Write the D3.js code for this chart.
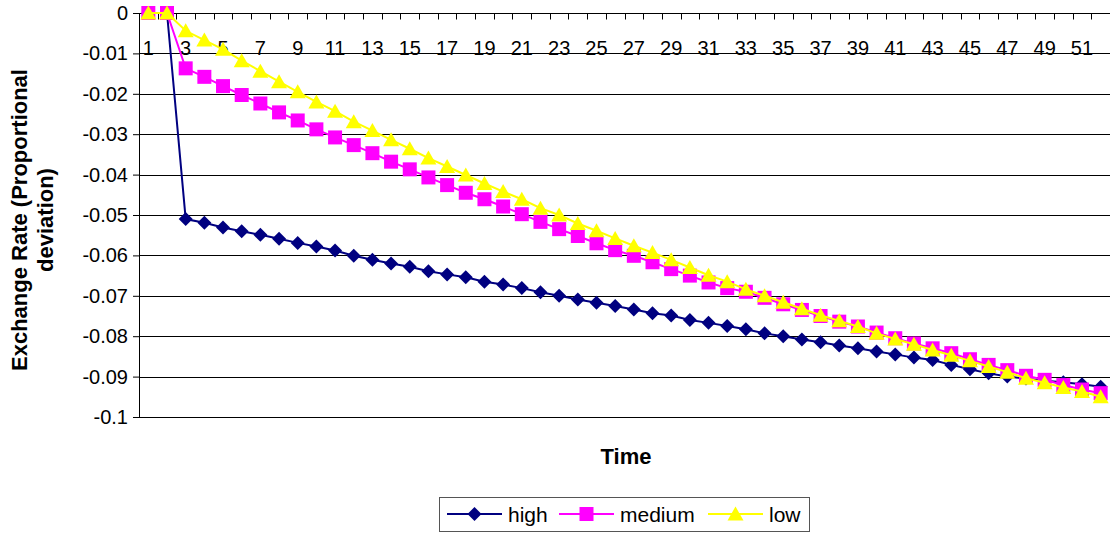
<!DOCTYPE html>
<html>
<head>
<meta charset="utf-8">
<script src="https://cdn.jsdelivr.net/npm/d3@7"></script>
<style>
  body { margin: 0; background: #fff; }
  svg { display: block; font-family: 'Liberation Sans', Arial, sans-serif; }
</style>
</head>
<body>
<div id="chart"></div>
<script>
// time periods 1..52
const periods = d3.range(1, 53);

const high = [0, 0, -0.0510, -0.0519, -0.0531, -0.0540, -0.0549, -0.0559, -0.0569, -0.0578,
  -0.0588, -0.0601, -0.0611, -0.0620, -0.0628, -0.0639, -0.0647, -0.0654, -0.0665, -0.0672,
  -0.0681, -0.0691, -0.0700, -0.0709, -0.0717, -0.0725, -0.0734, -0.0743, -0.0749, -0.0760,
  -0.0767, -0.0775, -0.0783, -0.0793, -0.0800, -0.0808, -0.0815, -0.0823, -0.0830, -0.0838,
  -0.0845, -0.0853, -0.0859, -0.0871, -0.0882, -0.0892, -0.0900, -0.0905, -0.0910, -0.0914,
  -0.0919, -0.0925];

const medium = [0, 0, -0.0137, -0.0158, -0.0181, -0.0203, -0.0224, -0.0246, -0.0266, -0.0288,
  -0.0308, -0.0327, -0.0347, -0.0368, -0.0387, -0.0407, -0.0426, -0.0445, -0.0461, -0.0479,
  -0.0498, -0.0517, -0.0535, -0.0552, -0.0570, -0.0587, -0.0601, -0.0617, -0.0634, -0.0650,
  -0.0667, -0.0681, -0.0690, -0.0705, -0.0721, -0.0735, -0.0750, -0.0764, -0.0776, -0.0791,
  -0.0805, -0.0818, -0.0830, -0.0842, -0.0857, -0.0871, -0.0884, -0.0898, -0.0908, -0.0921,
  -0.0932, -0.0941];

const low = [0, 0, -0.0044, -0.0067, -0.0090, -0.0118, -0.0144, -0.0170, -0.0195, -0.0220,
  -0.0243, -0.0269, -0.0291, -0.0314, -0.0336, -0.0359, -0.0380, -0.0401, -0.0422, -0.0442,
  -0.0461, -0.0483, -0.0500, -0.0521, -0.0539, -0.0558, -0.0576, -0.0593, -0.0611, -0.0630,
  -0.0649, -0.0665, -0.0684, -0.0700, -0.0716, -0.0732, -0.0748, -0.0762, -0.0776, -0.0793,
  -0.0807, -0.0820, -0.0834, -0.0847, -0.0861, -0.0875, -0.0889, -0.0904, -0.0915, -0.0927,
  -0.0937, -0.0950];

const yTicks = [0, -0.01, -0.02, -0.03, -0.04, -0.05, -0.06, -0.07, -0.08, -0.09, -0.1];

const seriesNames = ['high', 'medium', 'low'];
const seriesColors = ['#000080', '#ff00ff', '#ffff00'];

const width = 1110;
const height = 533;
const plotLeft = 139, plotRight = 1110, plotTop = 13, plotBottom = 417;

// Excel-ish markers, all centred on their box
function marker(s) {
  if (s === 0) return 'M0,-7L7,0L0,7L-7,0Z';
  if (s === 1) return 'M-7,-7H7V7H-7Z';
  return 'M0,-7.5L8,6.5L-8,6.5Z';
}

const svg = d3.select('#chart').append('svg')
  .attr('width', width)
  .attr('height', height);

const x = d3.scaleBand().domain(periods).range([plotLeft, plotRight]).padding(0);
const cx = (p) => x(p) + x.bandwidth() / 2;
const y = d3.scaleLinear().domain([0, -0.1]).range([plotTop, plotBottom]);

// y axis labels and outside ticks
const yAxis = svg.append('g')
  .attr('transform', `translate(${plotLeft},0)`)
  .call(d3.axisLeft(y).tickValues(yTicks).tickSize(6).tickPadding(5)
    .tickFormat((d) => String(d)));
yAxis.select('.domain').remove();
yAxis.selectAll('text').attr('font-size', 20).attr('fill', '#000')
  .attr('font-family', "'Liberation Sans', Arial, sans-serif");
yAxis.selectAll('line').attr('stroke', '#000');

// horizontal gridlines
svg.append('g').selectAll('line').data(yTicks).join('line')
  .attr('x1', plotLeft).attr('x2', plotRight)
  .attr('y1', (d) => Math.round(y(d)) + 0.5).attr('y2', (d) => Math.round(y(d)) + 0.5)
  .attr('stroke', '#000').attr('stroke-width', 1);

// left axis line
svg.append('line')
  .attr('x1', plotLeft + 0.5).attr('x2', plotLeft + 0.5)
  .attr('y1', plotTop).attr('y2', plotBottom)
  .attr('stroke', '#000');

// x axis along the zero line, ticks at category boundaries, labels on odd periods
const xAxisG = svg.append('g').attr('transform', `translate(0,${Math.round(y(0)) + 0.5})`);
xAxisG.append('line').attr('x1', plotLeft).attr('x2', plotRight).attr('stroke', '#000');
xAxisG.selectAll('.tk').data(periods).join('line')
  .attr('class', 'tk')
  .attr('x1', (p) => Math.round(x(p)) + 0.5).attr('x2', (p) => Math.round(x(p)) + 0.5)
  .attr('y1', 0).attr('y2', 6)
  .attr('stroke', '#000');
xAxisG.selectAll('text').data(periods.filter((p) => p % 2 === 1)).join('text')
  .attr('x', (p) => cx(p))
  .attr('y', 41)
  .attr('text-anchor', 'middle')
  .attr('font-size', 20)
  .text((p) => p);

// series
const allSeries = [high, medium, low];
const line = d3.line().x((d, i) => cx(periods[i])).y((d) => y(d));

allSeries.forEach((values, s) => {
  const g = svg.append('g');
  g.append('path')
    .datum(values)
    .attr('d', line)
    .attr('fill', 'none')
    .attr('stroke', seriesColors[s])
    .attr('stroke-width', 2);
  g.selectAll('path.mk').data(values).join('path')
    .attr('class', 'mk')
    .attr('transform', (d, i) => `translate(${cx(periods[i])},${y(d)})`)
    .attr('d', marker(s))
    .attr('fill', seriesColors[s]);
});

// y axis title
const yTitle = svg.append('text')
  .attr('transform', 'translate(34,220) rotate(-90)')
  .attr('text-anchor', 'middle')
  .attr('font-size', 22)
  .attr('font-weight', 'bold');
yTitle.append('tspan').attr('x', 0).attr('dy', '-0.3em').text('Exchange Rate (Proportional');
yTitle.append('tspan').attr('x', 0).attr('dy', '1.15em').text('deviation)');

// x axis title
svg.append('text')
  .attr('x', 626).attr('y', 464)
  .attr('text-anchor', 'middle')
  .attr('font-size', 22)
  .attr('font-weight', 'bold')
  .text('Time');

// legend
const legend = svg.append('g');
legend.append('rect')
  .attr('x', 439.5).attr('y', 497.5).attr('width', 370).attr('height', 34)
  .attr('fill', '#fff').attr('stroke', '#555');
const legendX = [447, 559, 708];
seriesNames.forEach((name, s) => {
  const lg = legend.append('g').attr('transform', `translate(${legendX[s]},514)`);
  lg.append('line').attr('x1', 0).attr('x2', 55).attr('stroke', seriesColors[s]).attr('stroke-width', 2);
  lg.append('path').attr('transform', 'translate(27.5,0)')
    .attr('d', marker(s))
    .attr('fill', seriesColors[s]);
  lg.append('text').attr('x', 61).attr('y', 8).attr('font-size', 21).text(name);
});
</script>
</body>
</html>
